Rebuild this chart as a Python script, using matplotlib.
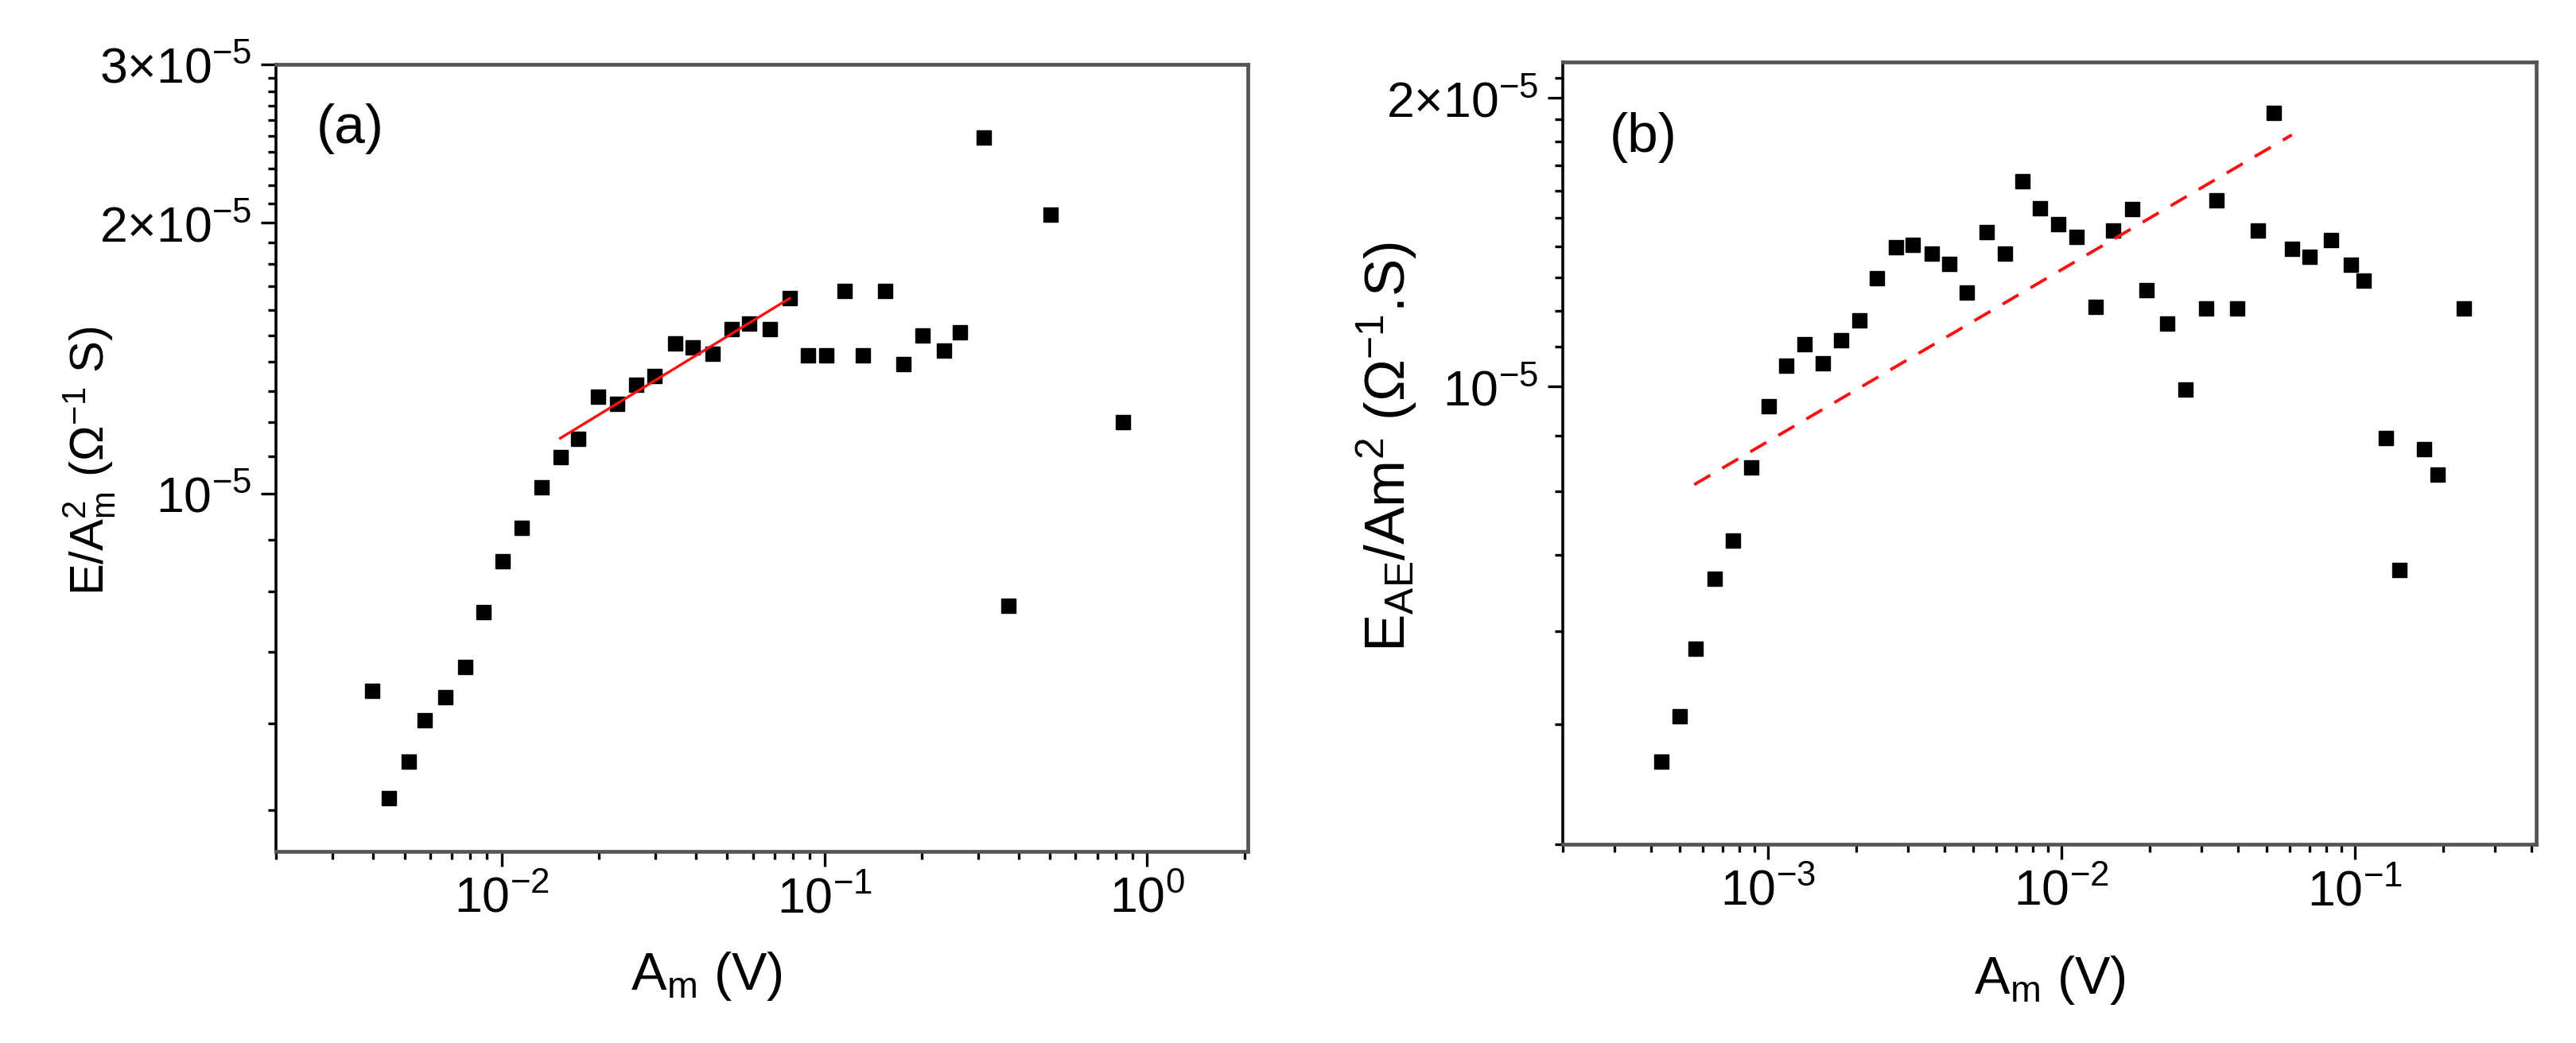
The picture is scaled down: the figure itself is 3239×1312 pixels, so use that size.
import matplotlib
matplotlib.use("Agg")
import matplotlib.pyplot as plt
from matplotlib.ticker import FixedLocator, NullFormatter, LogLocator, LogFormatterMathtext

plt.rcParams['font.family'] = ['Liberation Sans', 'DejaVu Sans']
plt.rcParams['mathtext.fontset'] = 'custom'
plt.rcParams['mathtext.rm'] = 'Liberation Sans'
plt.rcParams['mathtext.it'] = 'Liberation Sans:italic'
plt.rcParams['mathtext.bf'] = 'Liberation Sans:bold'

# ---------------- Panel (a) data ----------------
a_x = [0.00398, 0.00447, 0.00516, 0.00579, 0.00668, 0.00772, 0.00881, 0.01006,
       0.01155, 0.01334, 0.01522, 0.01728, 0.01995, 0.02278, 0.02615, 0.02985,
       0.03447, 0.03914, 0.04493, 0.05158, 0.05855, 0.06761, 0.0781, 0.0891,
       0.1012, 0.1155, 0.1318, 0.154, 0.1758, 0.2018, 0.2344, 0.263,
       0.311, 0.3715, 0.501, 0.841]
a_y = [6.03e-6, 4.58e-6, 5.03e-6, 5.60e-6, 5.94e-6, 6.42e-6, 7.38e-6, 8.40e-6,
       9.15e-6, 1.017e-5, 1.098e-5, 1.15e-5, 1.28e-5, 1.259e-5, 1.32e-5, 1.352e-5,
       1.468e-5, 1.455e-5, 1.43e-5, 1.524e-5, 1.545e-5, 1.524e-5, 1.648e-5, 1.423e-5,
       1.423e-5, 1.68e-5, 1.423e-5, 1.68e-5, 1.394e-5, 1.50e-5, 1.443e-5, 1.51e-5,
       2.49e-5, 7.5e-6, 2.04e-5, 1.2e-5]
a_fit_x = [0.0152, 0.078]
a_fit_y = [1.152e-5, 1.648e-5]

# ---------------- Panel (b) data ----------------
b_x = [4.34e-4, 5.0e-4, 5.68e-4, 6.59e-4, 7.58e-4, 8.79e-4, 1.006e-3, 1.152e-3,
       1.335e-3, 1.538e-3, 1.78e-3, 2.053e-3, 2.35e-3, 2.74e-3, 3.12e-3, 3.61e-3,
       4.16e-3, 4.76e-3, 5.56e-3, 6.44e-3, 7.37e-3, 8.43e-3, 9.78e-3, 1.126e-2,
       1.306e-2, 1.503e-2, 1.743e-2, 1.945e-2, 2.297e-2, 2.646e-2, 3.106e-2, 3.38e-2,
       3.97e-2, 4.66e-2, 5.3e-2, 6.1e-2, 7.02e-2, 8.3e-2, 9.68e-2, 0.1073,
       0.1276, 0.1423, 0.1726, 0.1914, 0.235]
b_y = [4.06e-6, 4.53e-6, 5.33e-6, 6.30e-6, 6.90e-6, 8.23e-6, 9.53e-6, 1.052e-5,
       1.106e-5, 1.057e-5, 1.118e-5, 1.173e-5, 1.297e-5, 1.398e-5, 1.404e-5, 1.375e-5,
       1.343e-5, 1.254e-5, 1.45e-5, 1.375e-5, 1.638e-5, 1.535e-5, 1.478e-5, 1.431e-5,
       1.21e-5, 1.454e-5, 1.53e-5, 1.26e-5, 1.163e-5, 9.92e-6, 1.205e-5, 1.563e-5,
       1.205e-5, 1.454e-5, 1.931e-5, 1.391e-5, 1.365e-5, 1.42e-5, 1.339e-5, 1.29e-5,
       8.83e-6, 6.43e-6, 8.6e-6, 8.09e-6, 1.205e-5]
b_fit_x = [5.61e-4, 0.061]
b_fit_y = [7.9e-6, 1.83e-5]

# tick values / labels
a_xticks = [1e-2, 1e-1, 1e0]
b_xticks = [1e-3, 1e-2, 1e-1]
a_yticks = [1e-5, 2e-5, 3e-5]
a_yticklabels = ['$10^{-5}$', '$2{\\times}10^{-5}$', '$3{\\times}10^{-5}$']
b_yticks = [1e-5, 2e-5]
b_yticklabels = ['$10^{-5}$', '$2{\\times}10^{-5}$']
low_minor = [4.444e-6, 5.556e-6, 6.667e-6, 7.778e-6, 8.889e-6]
a_yminor = low_minor + [k * 1e-6 for k in range(11, 30) if k != 20]
b_yminor = [3.333e-6] + low_minor + [k * 1e-6 for k in range(11, 22) if k != 20]

W, H = 3239, 1312
fig = plt.figure(figsize=(W / 100, H / 100), dpi=100)

def frac(l, t, r, b):
    return [l / W, 1 - b / H, (r - l) / W, (b - t) / H]

axa = fig.add_axes(frac(347, 81, 1569, 1071))
axb = fig.add_axes(frac(1965, 78, 3189, 1062))

TICK_FS = 45
XLAB_FS = 48
MS = 13.5

def style(ax, xticks, yticks, yticklabels, yminor):
    ax.set_xscale('log')
    ax.set_yscale('log')
    ax.xaxis.set_major_locator(FixedLocator(xticks))
    ax.xaxis.set_major_formatter(LogFormatterMathtext())
    ax.xaxis.set_minor_locator(LogLocator(base=10, subs=range(2, 10), numticks=50))
    ax.xaxis.set_minor_formatter(NullFormatter())
    ax.yaxis.set_major_locator(FixedLocator(yticks))
    ax.set_yticklabels(yticklabels)
    ax.yaxis.set_minor_locator(FixedLocator(yminor))
    ax.yaxis.set_minor_formatter(NullFormatter())
    ax.tick_params(which='major', direction='out', length=14, width=2.4,
                   labelsize=TICK_FS, color='black', top=False, right=False)
    ax.tick_params(which='minor', direction='out', length=7.5, width=2.4,
                   color='black', top=False, right=False)
    ax.tick_params(axis='x', which='major', pad=8)
    ax.tick_params(axis='y', which='major', pad=8)
    ax.spines['left'].set_color('black')
    ax.spines['left'].set_linewidth(2.6)
    for s in ['top', 'right', 'bottom']:
        ax.spines[s].set_color('#555555')
        ax.spines[s].set_linewidth(3.4)

# Panel (a)
axa.plot(a_x, a_y, linestyle='none', marker='s', markersize=MS,
         color='black', zorder=3)
axa.plot(a_fit_x, a_fit_y, color='#ff1010', linewidth=2.4, zorder=4)
axa.set_xlim(0.002, 2.05)
axa.set_ylim(4.0e-6, 3.0e-5)
style(axa, a_xticks, a_yticks, a_yticklabels, a_yminor)
axa.set_xlabel('A$_\\mathrm{m}$ (V)', fontsize=XLAB_FS, va='top')
axa.xaxis.set_label_coords(0.443, -0.125)
axa.set_ylabel('E/A$_\\mathrm{m}^\\mathrm{2}$ ($\\Omega^{-1}$ S)', fontsize=43)
axa.yaxis.set_label_coords(-0.163, 0.496)
axa.text(0.076, 0.918, '(a)', transform=axa.transAxes, fontsize=50,
         ha='center', va='center')

# Panel (b)
axb.plot(b_x, b_y, linestyle='none', marker='s', markersize=MS,
         color='black', zorder=3)
axb.plot(b_fit_x, b_fit_y, color='#ff1010', linewidth=2.8, zorder=4,
         linestyle=(0, (6, 4.5)))
axb.set_xlim(2.0e-4, 0.415)
axb.set_ylim(3.33e-6, 2.18e-5)
style(axb, b_xticks, b_yticks, b_yticklabels, b_yminor)
axb.set_xlabel('A$_\\mathrm{m}$ (V)', fontsize=XLAB_FS, va='top')
axb.xaxis.set_label_coords(0.5, -0.14)
axb.set_ylabel('E$_\\mathrm{AE}$/Am$^\\mathrm{2}$ ($\\Omega^{-1}$.S)', fontsize=51)
axb.yaxis.set_label_coords(-0.148, 0.508)
axb.text(0.083, 0.903, '(b)', transform=axb.transAxes, fontsize=50,
         ha='center', va='center')

fig.savefig('out.png', dpi=100)
